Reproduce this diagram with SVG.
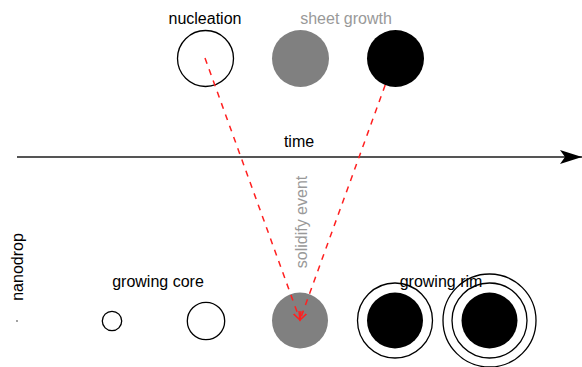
<svg xmlns="http://www.w3.org/2000/svg" width="582" height="367" viewBox="0 0 582 367">
<style>
text{font-family:"Liberation Sans",Arial,sans-serif;font-size:16px;text-anchor:middle}
.lbl{fill:#000}
.gry{fill:#999}
.ring{fill:none;stroke:#000;stroke-width:1.3}
.open{fill:#fff;stroke:#000;stroke-width:1.3}
.red{fill:none;stroke:#ff2020;stroke-width:1.5;stroke-dasharray:6 6}
</style>
<defs>
<marker id="ah" viewBox="0 0 22 14" refX="22" refY="7" markerWidth="22" markerHeight="14" markerUnits="userSpaceOnUse" orient="auto">
<path d="M0,0 L22,7 L0,14 L5,7 Z" fill="#000"/>
</marker>
<marker id="rv" viewBox="0 0 10 10" refX="8" refY="5" markerWidth="10" markerHeight="10" markerUnits="userSpaceOnUse" orient="auto">
<path d="M0,1 L8,5 L0,9" fill="none" stroke="#ff2020" stroke-width="1.5"/>
</marker>
</defs>
<g id="nucleation">
<circle class="ring" cx="205.5" cy="58.5" r="28"/>
<text class="lbl" x="205" y="24">nucleation</text>
</g>
<g id="sheet-growth-grey">
<circle cx="300.5" cy="58.5" r="28.5" fill="#808080"/>
</g>
<g id="sheet-growth-label">
<text class="gry" x="346" y="24">sheet growth</text>
</g>
<g id="sheet-growth-black">
<circle cx="395.5" cy="58.5" r="28.5" fill="#000"/>
</g>
<g id="time-label">
<text class="lbl" x="299" y="147">time</text>
</g>
<g id="nanodrop">
<text class="lbl" transform="translate(23,267) rotate(-90)">nanodrop</text>
<circle cx="17" cy="321" r="0.9" fill="#777"/>
</g>
<g id="growing-core">
<text class="lbl" x="158" y="287">growing core</text>
<circle class="ring" cx="112" cy="321" r="9.7"/>
<circle class="ring" cx="206" cy="321" r="18.7"/>
</g>
<g id="solidify">
<circle cx="300" cy="320.5" r="28" fill="#808080"/>
<text class="gry" transform="translate(307,222) rotate(-90)">solidify event</text>
</g>
<g id="growing-rim">
<circle class="open" cx="395" cy="320.5" r="37.5"/>
<circle cx="395" cy="320.5" r="28" fill="#000"/>
<circle class="open" cx="489.5" cy="320.5" r="46.5"/>
<circle class="ring" cx="489.5" cy="320.5" r="37.5"/>
<circle cx="489.5" cy="320.5" r="28" fill="#000"/>
<text class="lbl" x="441" y="287">growing rim</text>
</g>
<g id="connectors">
<line x1="17" y1="157" x2="582" y2="157" stroke="#555" stroke-width="2" marker-end="url(#ah)"/>
<line class="red" x1="205" y1="58" x2="300" y2="320" marker-end="url(#rv)"/>
<line class="red" x1="385.2" y1="85" x2="300" y2="320" marker-end="url(#rv)"/>
</g>
</svg>
